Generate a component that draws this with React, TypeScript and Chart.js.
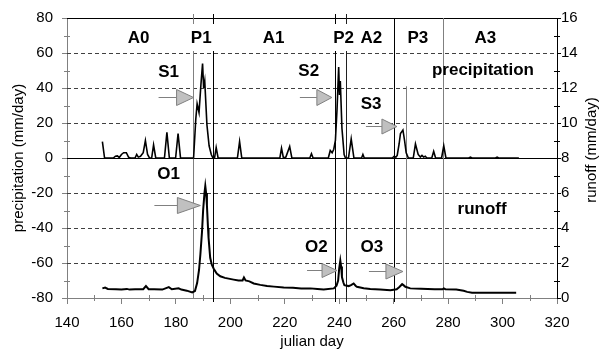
import { useEffect, useRef } from 'react';
import { Chart, registerables } from 'chart.js';

Chart.register(...registerables);

const FONT = '"Liberation Sans", Arial, Helvetica, sans-serif';

// Daily-ish precipitation (mm/day, left axis)
const precipDays = [
  153, 153.8, 157, 157.8, 158.5, 159.2, 160, 160.8, 161.8, 162.6, 163.3, 165, 165.6, 166.2, 167, 168,
  168.8, 169.6, 170.3, 171.1, 171.8, 172.6, 175.8, 176.7, 177.6, 179.9, 180.8, 181.7, 186.5, 187.3,
  187.8, 188.5, 189.2, 189.8, 190.2, 190.6, 191.4, 192.2, 193, 193.6, 194.2, 194.8, 195.5, 202.6,
  203.4, 204.2, 218.2, 218.8, 219.5, 220.4, 221.8, 222.6, 229.2, 229.8, 230.4, 236, 236.7, 237.4,
  238, 238.6, 239.2, 239.8, 240.1, 240.4, 241, 241.8, 242.3, 243.4, 244.4, 245.4, 248.2, 248.7,
  249.2, 259.5, 260.2, 260.8, 261.3, 262, 262.5, 263.4, 264, 264.6, 265.4, 267.2, 268, 269, 269.8,
  270.4, 271, 271.6, 272.2, 274, 274.7, 275.4, 277.6, 278.4, 279.2, 287.6, 288.2, 288.8, 297.4, 298,
  298.6, 306,
];
const precipValues = [
  9.4, 0, 0, 1, 1.2, 0.3, 2, 3, 3, 0.5, 0, 0, 2, 0.5, 1, 3,
  10, 2, 0, 0, 7.5, 0, 0, 14.6, 0, 0, 14, 0, 0, 22,
  31, 26, 42, 54, 40, 44, 19, 7, 2, 0, 0, 6, 0, 0,
  9.4, 0, 0, 5.6, 0, 0.5, 6.6, 0, 0, 2.4, 0, 0, 4.3, 3,
  5, 10, 28, 52, 36, 44, 17, 2, 0, 0, 10.9, 0, 0, 2,
  0, 0, 1, 0.5, 1.5, 8, 14, 16, 10, 3, 0, 0, 8, 2, 0.5,
  1.5, 0.5, 1, 0, 0, 3.8, 0, 0, 7, 0, 0, 0.5, 0, 0, 0.5,
  0, 0,
];

// Runoff (mm/day, right axis)
const runoffDays = [
  153, 154, 155, 158, 160, 162, 163, 165, 168, 169, 170, 172, 175, 177.4, 178.5, 181, 182, 184, 186,
  187, 187.8, 188.5, 189, 189.6, 190, 190.5, 190.8, 191.1, 191.4, 191.8, 192, 192.6, 193.2, 193.9,
  195, 196.3, 198, 201.2, 203, 204.5, 205, 205.6, 207, 208.6, 211, 213.5, 216, 219.6, 223, 226,
  229.4, 232, 234.3, 238, 239, 239.6, 240, 240.4, 240.7, 241, 241.5, 241.9, 243.5, 244.5, 245.3,
  246, 246.5, 249, 251.4, 255, 258.8, 261.1, 262, 263.1, 263.7, 264.3, 266.1, 270, 275, 278, 278.4,
  279, 283, 285.7, 287, 288.8, 295.5, 305,
];
const runoffValues = [
  0.55, 0.6, 0.52, 0.5, 0.48, 0.52, 0.48, 0.5, 0.5, 0.68, 0.5, 0.5, 0.48, 0.62, 0.5, 0.55, 0.48, 0.42, 0.32,
  0.4, 0.85, 1.6, 2.5, 3.8, 5, 6, 6.4, 6.0, 5.3, 4, 3.45, 2.3, 1.9, 1.67,
  1.4, 1.24, 1.15, 1.05, 1.0, 1.0, 1.17, 1.0, 0.95, 0.83, 0.75, 0.69, 0.65, 0.6, 0.58, 0.55,
  0.55, 0.52, 0.49, 0.55, 0.7, 1.0, 1.7, 2.14, 1.8, 1.2, 0.9, 0.73, 0.68, 0.75, 0.83,
  0.7, 0.64, 0.56, 0.51, 0.48, 0.45, 0.5, 0.62, 0.79, 0.72, 0.64, 0.55, 0.53, 0.5, 0.5, 0.55,
  0.5, 0.48, 0.41, 0.35, 0.3, 0.3, 0.3,
];

// Period names across the top and the day boundaries between them
const periodNames = ['A0', 'P1', 'A1', 'P2', 'A2', 'P3', 'A3'];
const periodNameDays = [166.3, 189.3, 215.9, 241.6, 251.8, 268.9, 293.7];
const boundaryDays = [186.3, 193.5, 238.3, 242.6, 260.3, 264.5, 278.0];

// Storm events (precipitation) and outflow responses (runoff)
const stormNames = ['S1', 'S2', 'S3'];
const stormLabelDays = [177.3, 228.8, 251.7];
const stormLabelPrecip = [49, 49.4, 30.6];
const stormArrowDays = [186.5, 237.3, 261.2];
const stormArrowPrecip = [34.8, 34.8, 18.4];

const outflowNames = ['O1', 'O2', 'O3'];
const outflowLabelDays = [177.3, 231.6, 252];
const outflowLabelRunoff = [7.04, 2.89, 2.89];
const outflowArrowDays = [189, 239.2, 263.4];
const outflowArrowRunoff = [5.33, 1.62, 1.52];

const decorPlugin = {
  id: 'hydroDecor',
  beforeDatasetsDraw(chart: any) {
    const { ctx, chartArea: a, scales } = chart;
    const x = scales.x;
    const y = scales.y;
    const y1 = scales.y1;
    const al = (v: number) => Math.round(v) + 0.5;
    ctx.save();

    // dashed grid
    ctx.strokeStyle = '#404040';
    ctx.lineWidth = 1;
    ctx.setLineDash([4, 3]);
    [60, 40, 20, -20, -40, -60].forEach((v) => {
      const py = al(y.getPixelForValue(v));
      ctx.beginPath();
      ctx.moveTo(a.left, py);
      ctx.lineTo(a.right, py);
      ctx.stroke();
    });
    ctx.setLineDash([]);

    // zero line and top frame
    ctx.strokeStyle = '#000';
    const zy = al(y.getPixelForValue(0));
    ctx.beginPath();
    ctx.moveTo(a.left, zy);
    ctx.lineTo(a.right, zy);
    ctx.stroke();
    ctx.beginPath();
    ctx.moveTo(a.left, al(a.top));
    ctx.lineTo(a.right, al(a.top));
    ctx.stroke();

    // minor ticks
    ctx.strokeStyle = '#808080';
    for (let d = 150; d < 320; d += 20) {
      const px = al(x.getPixelForValue(d));
      ctx.beginPath();
      ctx.moveTo(px, a.bottom - 3);
      ctx.lineTo(px, a.bottom + 3);
      ctx.stroke();
    }
    for (let v = -70; v < 80; v += 20) {
      const py = al(y.getPixelForValue(v));
      ctx.beginPath();
      ctx.moveTo(a.left - 3, py);
      ctx.lineTo(a.left + 3, py);
      ctx.stroke();
    }
    ctx.strokeStyle = '#000';
    for (let v = 1; v < 16; v += 2) {
      const py = al(y1.getPixelForValue(v));
      ctx.beginPath();
      ctx.moveTo(a.right - 3, py);
      ctx.lineTo(a.right + 3, py);
      ctx.stroke();
    }

    // period boundaries
    const styles = [
      { c: '#808080', top: a.top - 4, bot: a.bottom },
      { c: '#000', top: a.top - 4, bot: a.bottom + 4 },
      { c: '#000', top: a.top - 4, bot: a.bottom + 4 },
      { c: '#202020', top: a.top - 4, bot: a.bottom + 4 },
      { c: '#000', top: a.top, bot: a.bottom + 4 },
      { c: '#808080', top: y.getPixelForValue(41), bot: a.bottom },
      { c: '#808080', top: a.top, bot: a.bottom },
    ];
    boundaryDays.forEach((d, i) => {
      const s = styles[i];
      const px = al(x.getPixelForValue(d));
      ctx.strokeStyle = s.c;
      ctx.beginPath();
      ctx.moveTo(px, s.top);
      ctx.lineTo(px, s.bot);
      ctx.stroke();
    });

    // label boxes over the peak-period boundaries
    ctx.fillStyle = '#fff';
    [1, 3].forEach((i) => {
      const cx = x.getPixelForValue(periodNameDays[i]);
      ctx.fillRect(cx - 14, a.top + 6, 28, 27);
    });
    ctx.restore();
  },
  afterDatasetsDraw(chart: any) {
    const { ctx, scales } = chart;
    const x = scales.x;
    const y = scales.y;
    const y1 = scales.y1;
    ctx.save();
    ctx.fillStyle = '#000';
    ctx.textAlign = 'center';
    ctx.textBaseline = 'middle';
    ctx.font = `bold 17px ${FONT}`;

    const yTop = y.getPixelForValue(68.2);
    periodNames.forEach((n, i) => ctx.fillText(n, x.getPixelForValue(periodNameDays[i]), yTop));
    stormNames.forEach((n, i) =>
      ctx.fillText(n, x.getPixelForValue(stormLabelDays[i]), y.getPixelForValue(stormLabelPrecip[i])),
    );
    outflowNames.forEach((n, i) =>
      ctx.fillText(n, x.getPixelForValue(outflowLabelDays[i]), y1.getPixelForValue(outflowLabelRunoff[i])),
    );
    ctx.fillText('precipitation', x.getPixelForValue(292.8), y.getPixelForValue(50.3));
    ctx.fillText('runoff', x.getPixelForValue(292.5), y1.getPixelForValue(5.05));

    const arrow = (tx: number, ty: number, w: number, h: number, tail: number) => {
      ctx.strokeStyle = '#808080';
      ctx.lineWidth = 1;
      const yy = Math.round(ty) + 0.5;
      ctx.beginPath();
      ctx.moveTo(tx - w - tail, yy);
      ctx.lineTo(tx - w, yy);
      ctx.stroke();
      ctx.beginPath();
      ctx.moveTo(tx, yy);
      ctx.lineTo(tx - w, yy - h / 2);
      ctx.lineTo(tx - w, yy + h / 2);
      ctx.closePath();
      ctx.fillStyle = '#c0c0c0';
      ctx.fill();
      ctx.stroke();
    };
    const stormSizes = [[17, 16, 18], [15, 16, 17], [15, 15, 16]];
    const outflowSizes = [[23, 16, 23], [15, 14, 15], [17, 15, 17]];
    stormArrowDays.forEach((d, i) => {
      const [w, h, t] = stormSizes[i];
      arrow(x.getPixelForValue(d), y.getPixelForValue(stormArrowPrecip[i]), w, h, t);
    });
    outflowArrowDays.forEach((d, i) => {
      const [w, h, t] = outflowSizes[i];
      arrow(x.getPixelForValue(d), y1.getPixelForValue(outflowArrowRunoff[i]), w, h, t);
    });

    // right axis title, reading bottom to top
    ctx.fillStyle = '#000';
    ctx.font = `15px ${FONT}`;
    ctx.translate(592, 150);
    ctx.rotate(-Math.PI / 2);
    ctx.fillText('runoff (mm/day)', 0, 0);
    ctx.restore();
  },
};

export default function App() {
  const ref = useRef<HTMLCanvasElement>(null);
  useEffect(() => {
    if (!ref.current) return;
    const tickFont = { family: FONT, size: 15 };
    const chart = new Chart(ref.current, {
      type: 'line',
      data: {
        datasets: [
          {
            label: 'precipitation',
            data: precipDays.map((d, i) => ({ x: d, y: precipValues[i] })),
            yAxisID: 'y',
            borderColor: '#000',
            borderWidth: 1.6,
            pointRadius: 0,
            tension: 0,
          },
          {
            label: 'runoff',
            data: runoffDays.map((d, i) => ({ x: d, y: runoffValues[i] })),
            yAxisID: 'y1',
            borderColor: '#000',
            borderWidth: 2,
            pointRadius: 0,
            tension: 0,
          },
        ],
      },
      options: {
        responsive: false,
        animation: false,
        devicePixelRatio: 1,
        layout: { padding: { top: 14, left: 0, right: 0, bottom: 0 } },
        plugins: { legend: { display: false }, tooltip: { enabled: false } },
        scales: {
          x: {
            type: 'linear',
            min: 140,
            max: 320,
            ticks: { stepSize: 20, font: tickFont, color: '#000', padding: 10, maxRotation: 0 },
            grid: { drawOnChartArea: false, tickLength: 6, tickColor: '#808080' },
            border: { color: '#808080', width: 1 },
            title: { display: true, text: 'julian day', font: tickFont, color: '#000', padding: { top: 0, bottom: 5 } },
            afterFit: (s: any) => {
              s.height = 58;
            },
          },
          y: {
            position: 'left',
            min: -80,
            max: 80,
            ticks: { stepSize: 20, font: tickFont, color: '#000', padding: 9 },
            grid: { drawOnChartArea: false, tickLength: 5, tickColor: '#808080' },
            border: { color: '#808080', width: 1 },
            title: {
              display: true,
              text: 'precipitation (mm/day)',
              font: tickFont,
              color: '#000',
              padding: { top: 10, bottom: 0 },
            },
            afterFit: (s: any) => {
              s.width = 67;
            },
          },
          y1: {
            position: 'right',
            min: 0,
            max: 16,
            ticks: { stepSize: 2, font: tickFont, color: '#000', padding: 0 },
            grid: { drawOnChartArea: false, tickLength: 4, tickColor: '#000' },
            border: { color: '#000', width: 1 },
            afterFit: (s: any) => {
              s.width = 48;
            },
          },
        },
      } as any,
      plugins: [decorPlugin],
    });
    return () => chart.destroy();
  }, []);
  return (
    <div style={{ position: 'fixed', left: 0, top: 0, width: 605, height: 356, background: '#fff' }}>
      <canvas ref={ref} width={605} height={356} />
    </div>
  );
}
